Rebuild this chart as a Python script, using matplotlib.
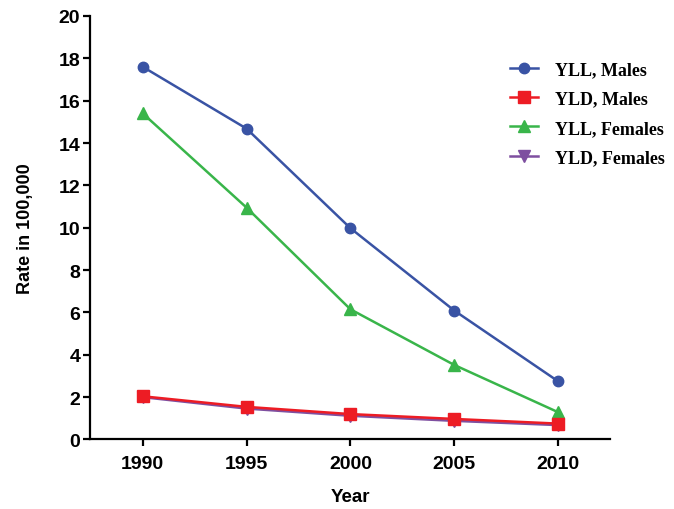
import matplotlib
matplotlib.use("Agg")
import matplotlib.pyplot as plt

years = [1990, 1995, 2000, 2005, 2010]
yll_males = [17.6, 14.68, 9.98, 6.09, 2.75]
yld_males = [2.04, 1.54, 1.20, 0.97, 0.75]
yll_females = [15.4, 10.95, 6.15, 3.52, 1.29]
yld_females = [2.00, 1.46, 1.12, 0.88, 0.68]
xticks = [1990, 1995, 2000, 2005, 2010]
yticks = [0, 2, 4, 6, 8, 10, 12, 14, 16, 18, 20]

plt.rcParams["font.family"] = ["Liberation Sans", "DejaVu Sans"]

fig = plt.figure(figsize=(6.74, 5.10), dpi=100)
ax = fig.add_axes([0.1335, 0.1363, 0.905 - 0.1335, 0.9667 - 0.1363])

lw = 1.8
l1, = ax.plot(years, yll_males, color="#3953a4", lw=lw, marker="o", ms=7.5,
              label="YLL, Males", zorder=4)
l2, = ax.plot(years, yld_males, color="#ed1c24", lw=lw, marker="s", ms=8.5,
              label="YLD, Males", zorder=5)
l3, = ax.plot(years, yll_females, color="#39b54a", lw=lw, marker="^", ms=8.5,
              label="YLL, Females", zorder=3)
l4, = ax.plot(years, yld_females, color="#7e4fa0", lw=lw, marker="v", ms=8.5,
              label="YLD, Females", zorder=2)

ax.set_xlim(1987.46, 2012.5)
ax.set_ylim(0, 20)
ax.set_xticks(xticks)
ax.set_yticks(yticks)
for s in ("top", "right"):
    ax.spines[s].set_visible(False)
for s in ("left", "bottom"):
    ax.spines[s].set_linewidth(1.6)
ax.tick_params(width=1.6, length=5, labelsize=14, pad=2)
for t in ax.get_xticklabels() + ax.get_yticklabels():
    t.set_fontweight("bold")
ax.tick_params(axis="x", pad=6)

ax.set_xlabel("Year", fontsize=13.5, fontweight="bold", labelpad=12)
ax.set_ylabel("Rate in 100,000", fontsize=13, fontweight="bold", labelpad=18)

fig.legend(handles=[l1, l2, l3, l4], loc="upper left",
           bbox_to_anchor=(0.757, 0.878), frameon=False,
           prop={"family": ["Liberation Serif"], "weight": "bold", "size": 13},
           borderpad=0, borderaxespad=0, handlelength=1.55,
           handletextpad=0.95, labelspacing=0.68)

fig.savefig("out.png", dpi=100)
